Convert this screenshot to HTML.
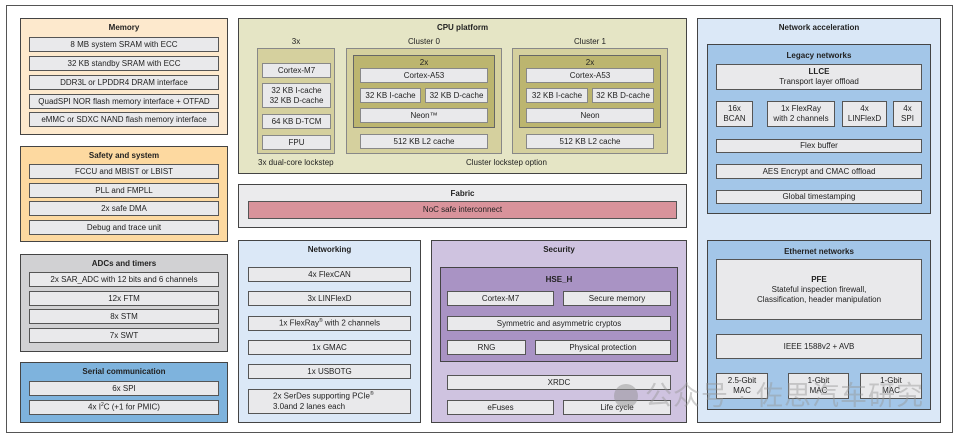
<!DOCTYPE html>
<html><head><meta charset="utf-8"><style>
*{margin:0;padding:0;box-sizing:border-box}
body{width:960px;height:440px;background:#fff;position:relative;overflow:hidden;font-family:"Liberation Sans",Arial,sans-serif;font-size:8px;color:#222}
div{position:absolute}
.g{border:1.5px solid #444}
.i{background:#e9e9eb;border:1.5px solid #555;display:flex;align-items:center;justify-content:center;text-align:center;line-height:1.25}
.c{border:1.5px solid #888}
.t{font-weight:bold;text-align:center;width:100%;left:0}
.l{text-align:center}
</style></head><body>
<div style="left:6px;top:5px;width:947px;height:428px;border:1.5px solid #555"></div>

<!-- Memory -->
<div class="g" style="left:20px;top:18px;width:208px;height:117px;background:#fde9cd"><div class="t" style="top:4px">Memory</div></div>
<div class="i" style="left:29px;top:37px;width:190px;height:15px">8 MB system SRAM with ECC</div>
<div class="i" style="left:29px;top:56px;width:190px;height:15px">32 KB standby SRAM with ECC</div>
<div class="i" style="left:29px;top:75px;width:190px;height:15px">DDR3L or LPDDR4 DRAM interface</div>
<div class="i" style="left:29px;top:94px;width:190px;height:15px">QuadSPI NOR flash memory interface + OTFAD</div>
<div class="i" style="left:29px;top:112px;width:190px;height:15px">eMMC or SDXC NAND flash memory interface</div>

<!-- Safety -->
<div class="g" style="left:20px;top:146px;width:208px;height:96px;background:#fdd9a0"><div class="t" style="top:4px">Safety and system</div></div>
<div class="i" style="left:29px;top:164px;width:190px;height:15px">FCCU and MBIST or LBIST</div>
<div class="i" style="left:29px;top:183px;width:190px;height:15px">PLL and FMPLL</div>
<div class="i" style="left:29px;top:201px;width:190px;height:15px">2x safe DMA</div>
<div class="i" style="left:29px;top:220px;width:190px;height:15px">Debug and trace unit</div>

<!-- ADCs -->
<div class="g" style="left:20px;top:254px;width:208px;height:98px;background:#d1d1d3"><div class="t" style="top:4px">ADCs and timers</div></div>
<div class="i" style="left:29px;top:272px;width:190px;height:15px">2x SAR_ADC with 12 bits and 6 channels</div>
<div class="i" style="left:29px;top:291px;width:190px;height:15px">12x FTM</div>
<div class="i" style="left:29px;top:309px;width:190px;height:15px">8x STM</div>
<div class="i" style="left:29px;top:328px;width:190px;height:15px">7x SWT</div>

<!-- Serial -->
<div class="g" style="left:20px;top:362px;width:208px;height:61px;background:#7eb3dd"><div class="t" style="top:4px">Serial communication</div></div>
<div class="i" style="left:29px;top:381px;width:190px;height:15px">6x SPI</div>
<div class="i" style="left:29px;top:400px;width:190px;height:15px"><span>4x I<sup style="font-size:5px">2</sup>C (+1 for PMIC)</span></div>

<!-- CPU platform -->
<div class="g" style="left:238px;top:18px;width:449px;height:156px;background:#e5e5c5"><div class="t" style="top:4px">CPU platform</div></div>
<div class="l" style="left:276px;top:37px;width:40px">3x</div>
<div class="l" style="left:384px;top:37px;width:80px">Cluster 0</div>
<div class="l" style="left:550px;top:37px;width:80px">Cluster 1</div>
<div class="c" style="left:257px;top:48px;width:78px;height:106px;background:#d5d09e"></div>
<div class="i" style="left:262px;top:63px;width:69px;height:15px;border-color:#888">Cortex-M7</div>
<div class="i" style="left:262px;top:83px;width:69px;height:25px;border-color:#888"><span>32 KB I-cache<br>32 KB D-cache</span></div>
<div class="i" style="left:262px;top:114px;width:69px;height:15px;border-color:#888">64 KB D-TCM</div>
<div class="i" style="left:262px;top:135px;width:69px;height:15px;border-color:#888">FPU</div>
<div style="left:258px;top:158px">3x dual-core lockstep</div>
<div style="left:466px;top:158px">Cluster lockstep option</div>

<div class="c" style="left:346px;top:48px;width:156px;height:106px;background:#d5d09e"></div>
<div class="c" style="left:353px;top:55px;width:142px;height:73px;background:#bcb56f;border-color:#666"></div>
<div class="l" style="left:353px;top:58px;width:142px">2x</div>
<div class="i" style="left:360px;top:68px;width:128px;height:15px;border-color:#888">Cortex-A53</div>
<div class="i" style="left:360px;top:88px;width:61px;height:15px;border-color:#888">32 KB I-cache</div>
<div class="i" style="left:425px;top:88px;width:63px;height:15px;border-color:#888">32 KB D-cache</div>
<div class="i" style="left:360px;top:108px;width:128px;height:15px;border-color:#888">Neon™</div>
<div class="i" style="left:360px;top:134px;width:128px;height:15px;border-color:#888">512 KB L2 cache</div>

<div class="c" style="left:512px;top:48px;width:156px;height:106px;background:#d5d09e"></div>
<div class="c" style="left:519px;top:55px;width:142px;height:73px;background:#bcb56f;border-color:#666"></div>
<div class="l" style="left:519px;top:58px;width:142px">2x</div>
<div class="i" style="left:526px;top:68px;width:128px;height:15px;border-color:#888">Cortex-A53</div>
<div class="i" style="left:526px;top:88px;width:62px;height:15px;border-color:#888">32 KB I-cache</div>
<div class="i" style="left:592px;top:88px;width:62px;height:15px;border-color:#888">32 KB D-cache</div>
<div class="i" style="left:526px;top:108px;width:128px;height:15px;border-color:#888">Neon</div>
<div class="i" style="left:526px;top:134px;width:128px;height:15px;border-color:#888">512 KB L2 cache</div>

<!-- Fabric -->
<div class="g" style="left:238px;top:184px;width:449px;height:44px;background:#ebebed"><div class="t" style="top:4px">Fabric</div></div>
<div class="i" style="left:248px;top:201px;width:429px;height:18px;background:#d9939b">NoC safe interconnect</div>

<!-- Networking -->
<div class="g" style="left:238px;top:240px;width:183px;height:183px;background:#dbe8f7"><div class="t" style="top:4px">Networking</div></div>
<div class="i" style="left:248px;top:267px;width:163px;height:15px">4x FlexCAN</div>
<div class="i" style="left:248px;top:291px;width:163px;height:15px">3x LINFlexD</div>
<div class="i" style="left:248px;top:316px;width:163px;height:15px"><span>1x FlexRay<sup style="font-size:5px">®</sup> with 2 channels</span></div>
<div class="i" style="left:248px;top:340px;width:163px;height:15px">1x GMAC</div>
<div class="i" style="left:248px;top:364px;width:163px;height:15px">1x USBOTG</div>
<div class="i" style="left:248px;top:389px;width:163px;height:25px;justify-content:flex-start;text-align:left;padding-left:24px"><span>2x SerDes supporting PCIe<sup style="font-size:5px">®</sup><br>3.0and 2 lanes each</span></div>

<!-- Security -->
<div class="g" style="left:431px;top:240px;width:256px;height:183px;background:#cfc3e0"><div class="t" style="top:4px">Security</div></div>
<div class="g" style="left:440px;top:267px;width:238px;height:95px;background:#a993c4"><div class="t" style="top:7px">HSE_H</div></div>
<div class="i" style="left:447px;top:291px;width:107px;height:15px">Cortex-M7</div>
<div class="i" style="left:563px;top:291px;width:108px;height:15px">Secure memory</div>
<div class="i" style="left:447px;top:316px;width:224px;height:15px">Symmetric and asymmetric cryptos</div>
<div class="i" style="left:447px;top:340px;width:79px;height:15px">RNG</div>
<div class="i" style="left:535px;top:340px;width:136px;height:15px">Physical protection</div>
<div class="i" style="left:447px;top:375px;width:224px;height:15px">XRDC</div>
<div class="i" style="left:447px;top:400px;width:107px;height:15px">eFuses</div>
<div class="i" style="left:563px;top:400px;width:108px;height:15px">Life cycle</div>

<!-- Network acceleration -->
<div class="g" style="left:697px;top:18px;width:244px;height:405px;background:#dbe8f7"><div class="t" style="top:4px">Network acceleration</div></div>
<div class="g" style="left:707px;top:44px;width:224px;height:170px;background:#a3c6e8"><div class="t" style="top:6px">Legacy networks</div></div>
<div class="i" style="left:716px;top:64px;width:206px;height:26px"><span><b>LLCE</b><br>Transport layer offload</span></div>
<div class="i" style="left:716px;top:101px;width:37px;height:26px"><span>16x<br>BCAN</span></div>
<div class="i" style="left:767px;top:101px;width:68px;height:26px"><span>1x FlexRay<br>with 2 channels</span></div>
<div class="i" style="left:842px;top:101px;width:45px;height:26px"><span>4x<br>LINFlexD</span></div>
<div class="i" style="left:893px;top:101px;width:29px;height:26px"><span>4x<br>SPI</span></div>
<div class="i" style="left:716px;top:139px;width:206px;height:14px">Flex buffer</div>
<div class="i" style="left:716px;top:164px;width:206px;height:15px">AES Encrypt and CMAC offload</div>
<div class="i" style="left:716px;top:190px;width:206px;height:14px">Global timestamping</div>

<div class="g" style="left:707px;top:240px;width:224px;height:170px;background:#a3c6e8"><div class="t" style="top:6px">Ethernet networks</div></div>
<div class="i" style="left:716px;top:259px;width:206px;height:61px"><span><b>PFE</b><br>Stateful inspection firewall,<br>Classification, header manipulation</span></div>
<div class="i" style="left:716px;top:334px;width:206px;height:25px">IEEE 1588v2 + AVB</div>
<div class="i" style="left:716px;top:373px;width:52px;height:26px"><span>2.5-Gbit<br>MAC</span></div>
<div class="i" style="left:788px;top:373px;width:61px;height:26px"><span>1-Gbit<br>MAC</span></div>
<div class="i" style="left:860px;top:373px;width:62px;height:26px"><span>1-Gbit<br>MAC</span></div>

<!-- watermark -->
<div style="left:614px;top:384px;width:24px;height:24px;border-radius:50%;background:rgba(140,140,140,0.45)"></div>
<div style="left:645px;top:380px;font-size:27px;color:rgba(150,150,150,0.45);font-family:'Liberation Sans','Noto Sans CJK SC',sans-serif;white-space:nowrap;line-height:32px;letter-spacing:1px">公众号 · 佐思汽车研究</div>
</body></html>
